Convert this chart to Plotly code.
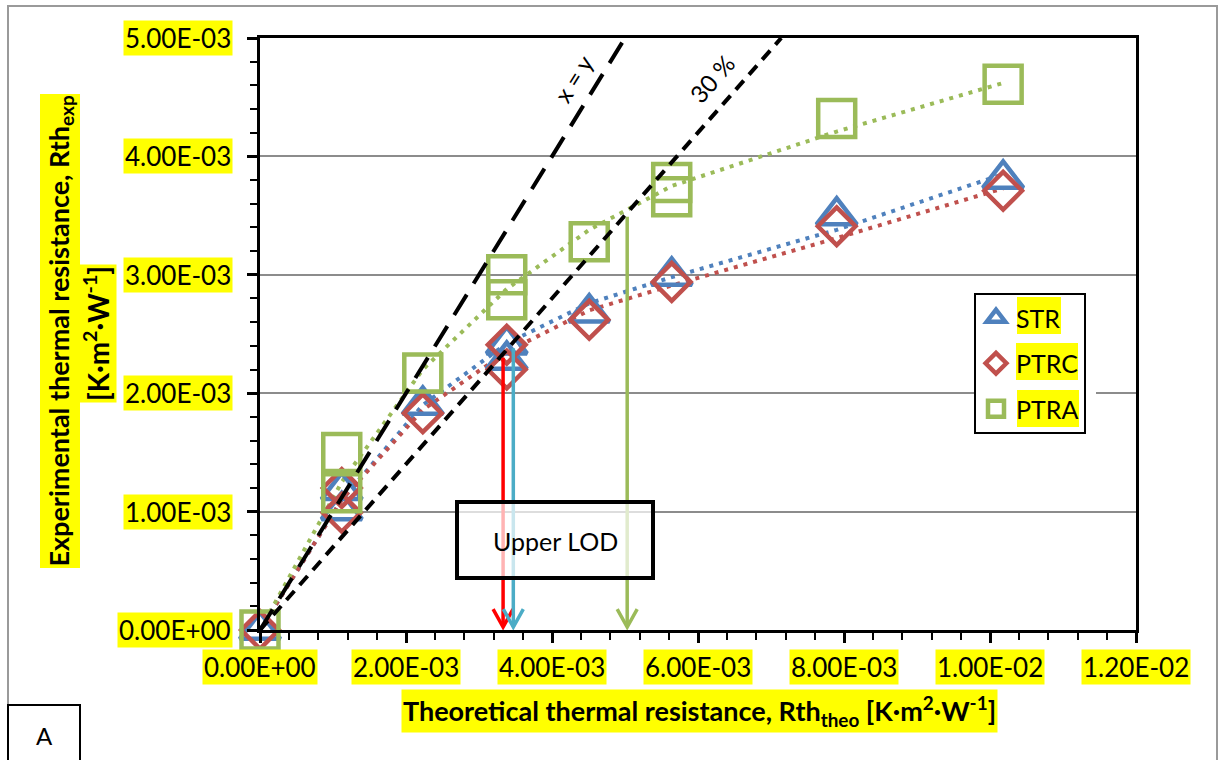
import plotly.graph_objects as go

# ---------------- data ----------------
str_x = [0, 1.12e-3, 1.12e-3, 2.23e-3, 3.38e-3, 3.38e-3, 4.51e-3, 5.64e-3, 7.90e-3, 10.18e-3]
str_y = [0, 1.18e-3, 1.01e-3, 1.90e-3, 2.41e-3, 2.28e-3, 2.68e-3, 2.99e-3, 3.50e-3, 3.81e-3]

ptrc_x = [0, 1.12e-3, 1.12e-3, 2.23e-3, 3.38e-3, 3.38e-3, 4.51e-3, 5.64e-3, 7.90e-3, 10.18e-3]
ptrc_y = [0, 1.20e-3, 0.99e-3, 1.83e-3, 2.41e-3, 2.20e-3, 2.62e-3, 2.94e-3, 3.41e-3, 3.71e-3]

ptra_x = [0, 1.12e-3, 1.12e-3, 2.23e-3, 3.38e-3, 3.38e-3, 4.51e-3, 5.64e-3, 5.64e-3, 7.90e-3, 10.18e-3]
ptra_y = [0, 1.50e-3, 1.16e-3, 2.17e-3, 3.00e-3, 2.79e-3, 3.28e-3, 3.78e-3, 3.66e-3, 4.32e-3, 4.61e-3]

# dotted lines through the series
trend_x = [0, 1.12e-3, 2.23e-3, 3.38e-3, 4.51e-3, 5.64e-3, 7.90e-3, 10.18e-3]
str_trend_y = [0, 1.10e-3, 1.90e-3, 2.42e-3, 2.76e-3, 2.98e-3, 3.38e-3, 3.85e-3]
ptrc_trend_y = [0, 1.10e-3, 1.86e-3, 2.35e-3, 2.70e-3, 2.91e-3, 3.31e-3, 3.73e-3]
ptra_trend_y = [0, 1.25e-3, 2.20e-3, 2.88e-3, 3.38e-3, 3.75e-3, 4.21e-3, 4.62e-3]

# reference lines
xy_line_x = [0, 5.0e-3]
xy_line_y = [0, 5.0e-3]
line30_x = [0, 7.14e-3]
line30_y = [0, 5.0e-3]

# upper limit of detection arrows
lod_x = [3.33e-3, 3.47e-3, 5.03e-3]
lod_top = [2.30e-3, 2.38e-3, 3.49e-3]
lod_tip = 0.025e-3
lod_colors = ["#FF0000", "#4BACC6", "#9BBB59"]

# ticks
x_ticks = [0, 2e-3, 4e-3, 6e-3, 8e-3, 10e-3, 12e-3]
x_tick_labels = ["0.00E+00", "2.00E-03", "4.00E-03", "6.00E-03", "8.00E-03", "1.00E-02", "1.20E-02"]
y_ticks = [0, 1e-3, 2e-3, 3e-3, 4e-3, 5e-3]
y_tick_labels = ["0.00E+00", "1.00E-03", "2.00E-03", "3.00E-03", "4.00E-03", "5.00E-03"]

BLUE, RED, GREEN = "#4F81BD", "#C0504D", "#9BBB59"
FONT = "Lato"
YELLOW = "#FFFF00"

W, H = 1218, 760
L, R, T, B = 260, 82, 38, 130
PW, PH = W - L - R, H - T - B


def px(x):
    return (x - L) / PW


def py(y):
    return (H - B - y) / PH


fig = go.Figure()

dot = "4px,6px"
for ty, col in [(str_trend_y, BLUE), (ptrc_trend_y, RED), (ptra_trend_y, GREEN)]:
    fig.add_trace(go.Scatter(x=trend_x, y=ty, mode="lines", showlegend=False,
                             line=dict(color=col, width=4, dash=dot), cliponaxis=False,
                             hoverinfo="skip"))

fig.add_trace(go.Scatter(x=str_x, y=str_y, mode="markers", name="STR", legendgroup="a",
                         marker=dict(symbol="triangle-up-open", size=35, color=BLUE,
                                     line=dict(width=4.5, color=BLUE)), cliponaxis=False))
fig.add_trace(go.Scatter(x=ptrc_x, y=ptrc_y, mode="markers", name="PTRC", legendgroup="b",
                         marker=dict(symbol="diamond-open", size=29, color=RED,
                                     line=dict(width=4.5, color=RED)), cliponaxis=False))
fig.add_trace(go.Scatter(x=ptra_x, y=ptra_y, mode="markers", name="PTRA", legendgroup="c",
                         marker=dict(symbol="square-open", size=37, color=GREEN,
                                     line=dict(width=4.5, color=GREEN)), cliponaxis=False))

fig.add_trace(go.Scatter(x=xy_line_x, y=xy_line_y, mode="lines", showlegend=False,
                         line=dict(color="black", width=4, dash="24px,13px"), cliponaxis=False))
fig.add_trace(go.Scatter(x=line30_x, y=line30_y, mode="lines", showlegend=False,
                         line=dict(color="black", width=4, dash="12px,8px"), cliponaxis=False))

shapes = []
# outer chart border
shapes.append(dict(type="rect", xref="paper", yref="paper", x0=px(8), x1=px(1217), y0=py(6), y1=py(790),
                   line=dict(color="#9a9a9a", width=2), layer="below"))
# arrows
for xv, top, col in zip(lod_x, lod_top, lod_colors):
    shapes.append(dict(type="line", xref="x", yref="y", x0=xv, x1=xv, y0=top, y1=lod_tip,
                       line=dict(color=col, width=3.5), layer="above"))
    shapes.append(dict(type="path", xref="x", yref="y", xsizemode="pixel", ysizemode="pixel",
                       xanchor=xv, yanchor=lod_tip, path="M -10,18 L 0,0 L 10,18",
                       line=dict(color=col, width=3.5), layer="above"))
# Upper LOD box
shapes.append(dict(type="rect", xref="paper", yref="paper", x0=px(457), x1=px(653), y0=py(502), y1=py(578),
                   line=dict(color="black", width=4), fillcolor="rgba(255,255,255,0.7)", layer="above"))
# "A" box
shapes.append(dict(type="rect", xref="paper", yref="paper", x0=px(8), x1=px(80), y0=py(705), y1=py(790),
                   line=dict(color="black", width=2), fillcolor="white", layer="above"))
# legend background and highlights
shapes.append(dict(type="rect", xref="paper", yref="paper", x0=px(974), x1=px(1096), y0=py(293), y1=py(432),
                   line=dict(width=0), fillcolor="white", layer="above"))
for (x0, x1, y0, y1) in [(1017, 1061, 297, 334), (1016, 1078, 343, 380), (1017, 1079, 390, 427)]:
    shapes.append(dict(type="rect", xref="paper", yref="paper", x0=px(x0), x1=px(x1), y0=py(y0), y1=py(y1),
                       line=dict(width=0), fillcolor=YELLOW, layer="above"))

ann = []
for v, t in zip(y_ticks, y_tick_labels):
    ann.append(dict(x=0, xref="paper", y=v, yref="y", text=t, showarrow=False, xanchor="right",
                    yanchor="middle", xshift=-27, bgcolor=YELLOW, borderpad=1,
                    font=dict(family=FONT, size=26, color="black")))
for v, t in zip(x_ticks, x_tick_labels):
    ann.append(dict(x=v, xref="x", y=0, yref="paper", text=t, showarrow=False, xanchor="center",
                    yanchor="top", yshift=-19, bgcolor=YELLOW, borderpad=1,
                    font=dict(family=FONT, size=26, color="black")))


def centered(**kw):
    d = dict(showarrow=False, xanchor="center", yanchor="middle", xref="paper", yref="paper")
    d.update(kw)
    return d


ann.append(centered(x=px(699), y=py(711),
                    text="<b>Theoretical thermal resistance, Rth<sub>theo</sub> [K·m<sup>2</sup>·W<sup>-1</sup>]</b>",
                    bgcolor=YELLOW, borderpad=1, font=dict(family=FONT, size=27, color="black")))
ann.append(centered(x=px(59.5), y=py(331), textangle=-90,
                    text="<b>Experimental thermal resistance, Rth<sub>exp</sub></b>",
                    bgcolor=YELLOW, borderpad=1, font=dict(family=FONT, size=27, color="black")))
ann.append(centered(x=px(96), y=py(334), textangle=-90,
                    text="<b>[K·m<sup>2</sup>·W<sup>-1</sup>]</b>",
                    bgcolor=YELLOW, borderpad=1, font=dict(family=FONT, size=28, color="black")))
ann.append(centered(x=px(555), y=py(541), text="Upper LOD",
                    font=dict(family=FONT, size=25, color="black")))
ann.append(centered(x=px(44), y=py(735), text="A",
                    font=dict(family=FONT, size=24, color="black")))
ann.append(centered(x=4.29e-3, xref="x", y=4.66e-3, yref="y", text="x = y", textangle=-58,
                    font=dict(family=FONT, size=24, color="black")))
ann.append(centered(x=6.19e-3, xref="x", y=4.66e-3, yref="y", text="30 %", textangle=-49,
                    font=dict(family=FONT, size=24, color="black")))

fig.update_layout(
    width=W, height=H,
    margin=dict(l=L, r=R, t=T, b=B, pad=0),
    paper_bgcolor="white", plot_bgcolor="white",
    font=dict(family=FONT, size=24, color="black"),
    shapes=shapes, annotations=ann,
    showlegend=True,
    legend=dict(x=px(974), y=py(293), xanchor="left", yanchor="top",
                bgcolor="rgba(0,0,0,0)", bordercolor="black", borderwidth=2,
                font=dict(family=FONT, size=25, color="black"), tracegroupgap=10,
                itemsizing="trace"),
    xaxis=dict(range=[0, 0.012], tick0=0, dtick=0.002, showgrid=False, zeroline=False,
               showline=True, linecolor="black", linewidth=2.5, mirror=True,
               ticks="outside", ticklen=10, tickwidth=2.5, tickcolor="black", showticklabels=False,
               minor=dict(dtick=0.0004, ticks="outside", ticklen=7, tickwidth=2, tickcolor="black",
                          showgrid=False)),
    yaxis=dict(range=[0, 0.005], tick0=0, dtick=0.001, showgrid=True, gridcolor="#8c8c8c", gridwidth=2,
               zeroline=False, showline=True, linecolor="black", linewidth=2.5, mirror=True,
               ticks="outside", ticklen=10, tickwidth=2.5, tickcolor="black", showticklabels=False,
               minor=dict(dtick=0.0002, ticks="outside", ticklen=7, tickwidth=2, tickcolor="black",
                          showgrid=False)),
)

fig.write_html("out.html")
